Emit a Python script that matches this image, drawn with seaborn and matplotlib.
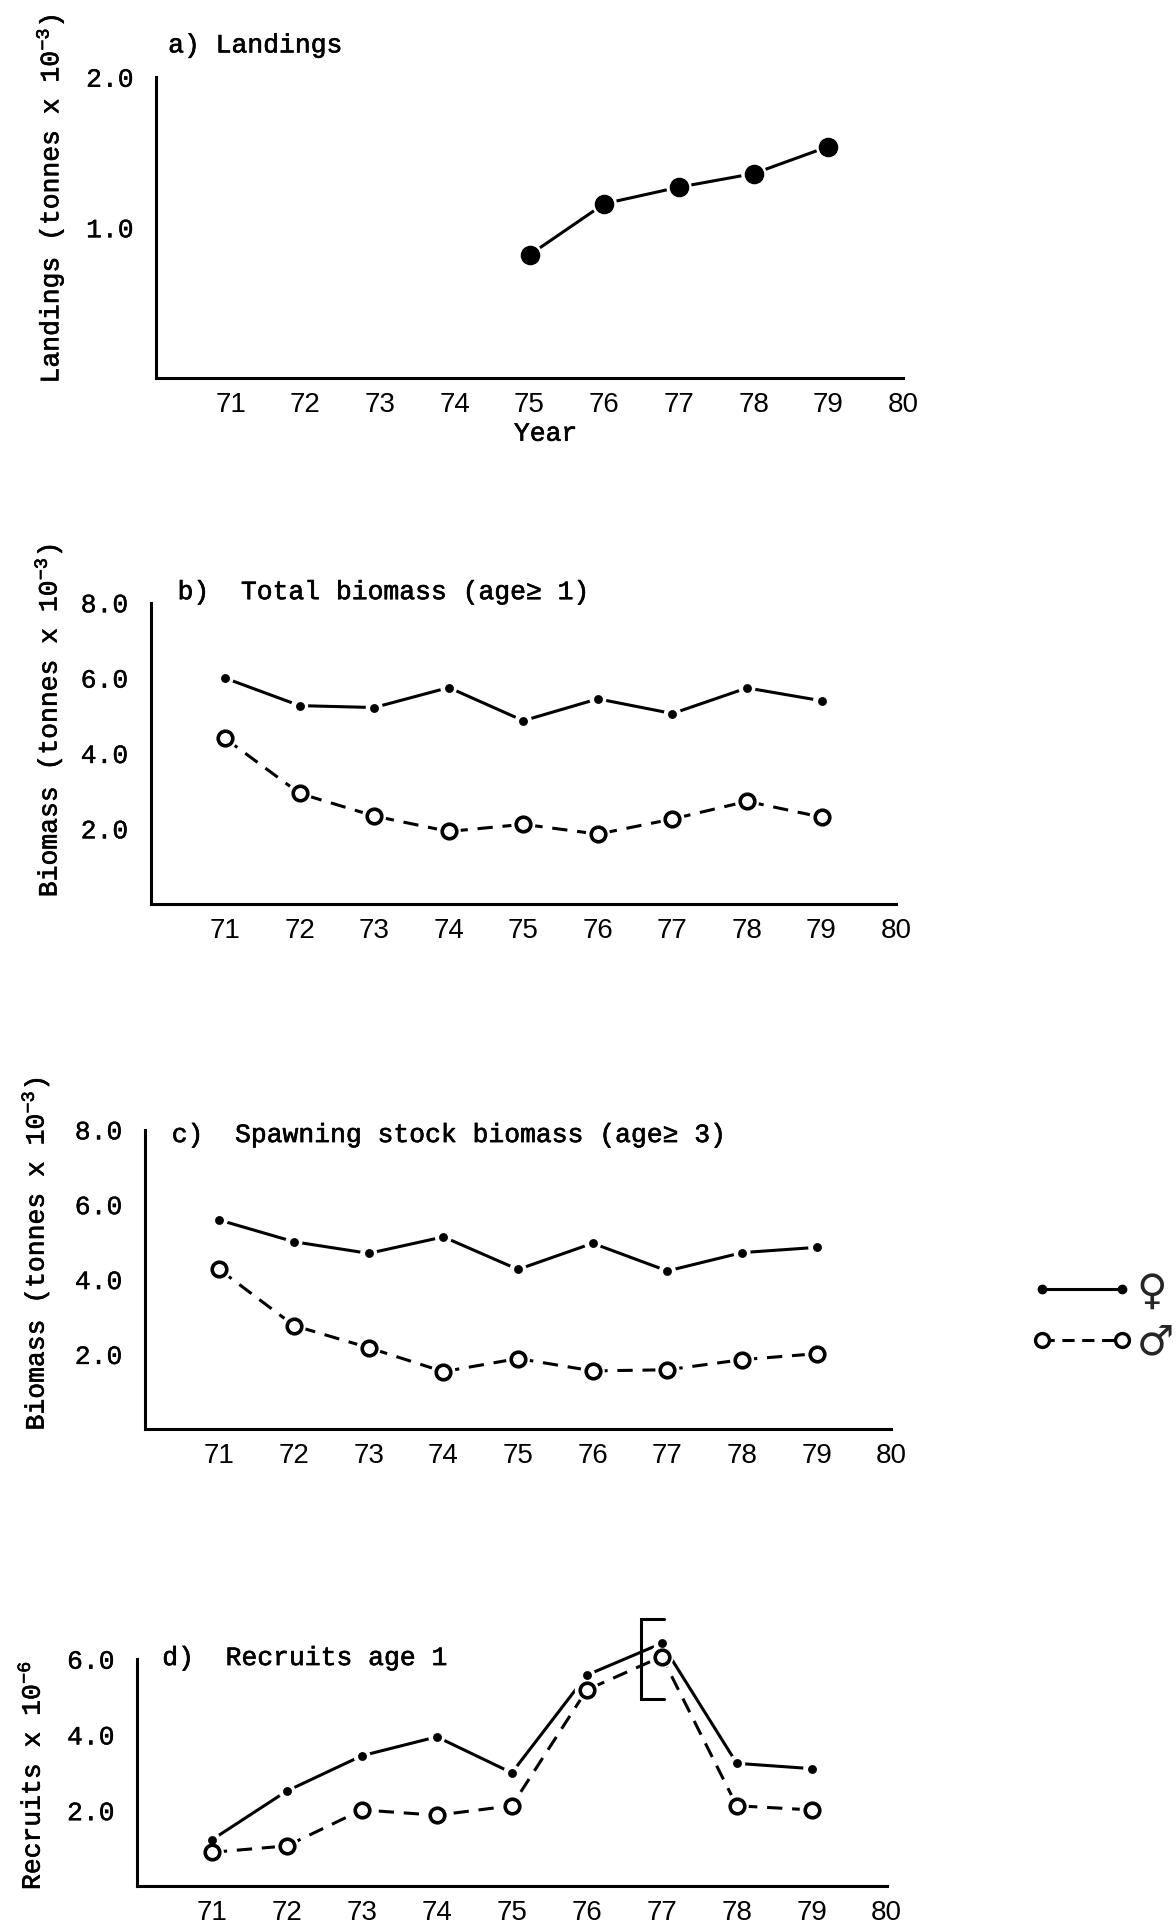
import matplotlib
matplotlib.use("Agg")
import matplotlib.pyplot as plt
import matplotlib.patheffects as pe
from matplotlib.lines import Line2D
import seaborn as sns
import pandas as pd

# ---------------- data ----------------
years_land = [75, 76, 77, 78, 79]
landings = [0.82, 1.16, 1.27, 1.36, 1.54]

years = [71, 72, 73, 74, 75, 76, 77, 78, 79]
tb_female = [6.00, 5.27, 5.22, 5.75, 4.87, 5.45, 5.06, 5.74, 5.40]
tb_male = [4.40, 2.94, 2.34, 1.93, 2.12, 1.86, 2.26, 2.73, 2.31]
ssb_female = [5.59, 5.01, 4.70, 5.14, 4.27, 4.97, 4.23, 4.72, 4.86]
ssb_male = [4.27, 2.77, 2.18, 1.54, 1.89, 1.56, 1.59, 1.86, 2.02]
rec_female = [1.23, 2.52, 3.45, 3.95, 3.00, 5.58, 6.42, 3.25, 3.11]
rec_male = [0.90, 1.07, 2.02, 1.88, 2.13, 5.19, 6.07, 2.13, 2.02]
# confidence bracket in panel d (year 77)
bracket_x = [77.03, 76.72, 76.72, 77.03]
bracket_y = [7.05, 7.05, 4.94, 4.94]

xticks = [71, 72, 73, 74, 75, 76, 77, 78, 79, 80]
titles = ["a) Landings", "b)  Total biomass (age\u2265 1)",
          "c)  Spawning stock biomass (age\u2265 3)", "d)  Recruits age 1"]
ylabels = ["Landings (tonnes x 10$^{-3}$)", "Biomass (tonnes x 10$^{-3}$)",
           "Biomass (tonnes x 10$^{-3}$)", "Recruits x 10$^{-6}$"]
legend_labels = ["\u2640", "\u2642"]

# ---------------- style ----------------
sns.set_theme(style="white")
plt.rcParams["font.family"] = ["Liberation Mono", "DejaVu Sans Mono", "DejaVu Sans"]
plt.rcParams["mathtext.fontset"] = "custom"
plt.rcParams["mathtext.rm"] = "Liberation Mono"
plt.rcParams["mathtext.it"] = "Liberation Mono"

MONO = ["Liberation Mono", "DejaVu Sans Mono", "DejaVu Sans"]
TICKFONT = ["Liberation Sans", "DejaVu Sans"]
LW = 2.2
BOLDEN = [pe.withStroke(linewidth=0.45, foreground="black")]

fig = plt.figure(figsize=(11.76, 19.32), dpi=100)
fig.patch.set_facecolor("white")

boxes = [
    [0.1326, 0.8042, 0.768 - 0.1326, 0.960 - 0.8042],
    [0.128, 0.532, 0.762 - 0.128, 0.688 - 0.532],
    [0.123, 0.2602, 0.758 - 0.123, 0.4152 - 0.2602],
    [0.1164, 0.0236, 0.754 - 0.1164, 0.1412 - 0.0236],
]
axes = [fig.add_axes(b) for b in boxes]

def style_axis(ax, ymax, yticks, ylabels_shown, ytick_len, xtick_len):
    ax.set_facecolor("white")
    ax.set_xlim(70, 80)
    ax.set_ylim(0, ymax)
    for s in ["top", "right"]:
        ax.spines[s].set_visible(False)
    for s in ["left", "bottom"]:
        ax.spines[s].set_linewidth(LW)
        ax.spines[s].set_color("black")
    ax.set_xticks(xticks)
    ax.set_xticklabels([str(t) for t in xticks], fontfamily=TICKFONT, fontsize=20)
    ax.set_yticks(yticks)
    ax.set_yticklabels(ylabels_shown, fontfamily=MONO, fontsize=19)
    for lab in ax.get_yticklabels():
        lab.set_path_effects([pe.withStroke(linewidth=0.3, foreground="black")])
    ax.tick_params(axis="x", direction="in", length=xtick_len, width=LW, pad=10,
                   colors="black")
    ax.tick_params(axis="y", direction="in", length=ytick_len, width=LW, pad=16,
                   colors="black")
    ax.grid(False)

def draw_series(ax, x, y, kind):
    df = pd.DataFrame({"x": x, "y": y})
    if kind == "female":
        sns.lineplot(data=df, x="x", y="y", ax=ax, color="black", lw=LW,
                     linestyle="-", zorder=2, clip_on=False)
        sns.scatterplot(data=df, x="x", y="y", ax=ax, s=150, color="white",
                        edgecolor="none", zorder=3, clip_on=False)
        sns.scatterplot(data=df, x="x", y="y", ax=ax, s=34, color="black",
                        edgecolor="black", linewidth=0.5, zorder=4, clip_on=False)
    else:
        sns.lineplot(data=df, x="x", y="y", ax=ax, color="black", lw=LW,
                     linestyle=(0, (5, 3.2)), zorder=2, clip_on=False)
        sns.scatterplot(data=df, x="x", y="y", ax=ax, s=300, color="white",
                        edgecolor="none", zorder=3, clip_on=False)
        sns.scatterplot(data=df, x="x", y="y", ax=ax, s=110, color="white",
                        edgecolor="black", linewidth=2.6, zorder=4, clip_on=False)
    ax.set_xlabel("")
    ax.set_ylabel("")

# ---- panel a ----
ax = axes[0]
style_axis(ax, 2.0, [0.5, 1.0, 1.5, 2.0], ["", "1.0", "", "2.0"], 20, 13)
for t, lab in zip(ax.yaxis.get_major_ticks(), [0.5, 1.0, 1.5, 2.0]):
    if lab in (0.5, 1.5):
        t.tick1line.set_markersize(13)
dfa = pd.DataFrame({"x": years_land, "y": landings})
sns.lineplot(data=dfa, x="x", y="y", ax=ax, color="black", lw=LW, zorder=2)
sns.scatterplot(data=dfa, x="x", y="y", ax=ax, s=330, color="white",
                edgecolor="none", zorder=3)
sns.scatterplot(data=dfa, x="x", y="y", ax=ax, s=170, color="black",
                edgecolor="black", zorder=4)
ax.set_xlabel("")
ax.set_ylabel("")

# ---- panel b ----
ax = axes[1]
style_axis(ax, 8.0, [2, 4, 6, 8], ["2.0", "4.0", "6.0", "8.0"], 12, 11)
draw_series(ax, years, tb_female, "female")
draw_series(ax, years, tb_male, "male")

# ---- panel c ----
ax = axes[2]
style_axis(ax, 8.0, [2, 4, 6, 8], ["2.0", "4.0", "6.0", "8.0"], 10, 10)
draw_series(ax, years, ssb_female, "female")
draw_series(ax, years, ssb_male, "male")

# ---- panel d ----
ax = axes[3]
style_axis(ax, 6.0, [2, 4, 6], ["2.0", "4.0", "6.0"], 11, 11.5)
draw_series(ax, years, rec_female, "female")
draw_series(ax, years, rec_male, "male")
ax.plot(bracket_x, bracket_y, color="black", lw=LW, clip_on=False,
        solid_joinstyle="miter")

# ---- titles ----
title_pos = [(0.143, 0.9765), (0.151, 0.6935), (0.146, 0.4125), (0.138, 0.1418)]
for (x, y), t in zip(title_pos, titles):
    fig.text(x, y, t, fontfamily=MONO, fontsize=19, va="center", ha="left",
             color="black", path_effects=BOLDEN)

# ---- y labels ----
ylab_pos = [(0.0425, 0.897), (0.041, 0.627), (0.030, 0.351), (0.027, 0.081)]
for (x, y), t in zip(ylab_pos, ylabels):
    fig.text(x, y, t, fontfamily=MONO, fontsize=19, va="center", ha="center",
             rotation=90, color="black", path_effects=BOLDEN)

# ---- x label (panel a only) ----
fig.text(0.464, 0.7755, "Year", fontfamily=MONO, fontsize=19, ha="center",
         va="center", color="black", path_effects=BOLDEN)

# ---- legend ----
h_f = Line2D([], [], color="black", lw=LW, marker="o", markersize=6,
             markerfacecolor="black", markeredgecolor="black")
h_m = Line2D([], [], color="black", lw=LW, linestyle=(0, (4, 2.5)), marker="o",
             markersize=10, markerfacecolor="white", markeredgecolor="black",
             markeredgewidth=2.4)
leg = fig.legend([h_f, h_m], legend_labels, loc="center left",
                 bbox_to_anchor=(0.8754, 0.3183), frameon=False, numpoints=2,
                 borderpad=0, borderaxespad=0,
                 handlelength=2.52, handletextpad=0.05, labelspacing=0.2,
                 prop={"family": "DejaVu Sans", "size": 30})

fig.savefig("out.png", dpi=100, facecolor="white")
